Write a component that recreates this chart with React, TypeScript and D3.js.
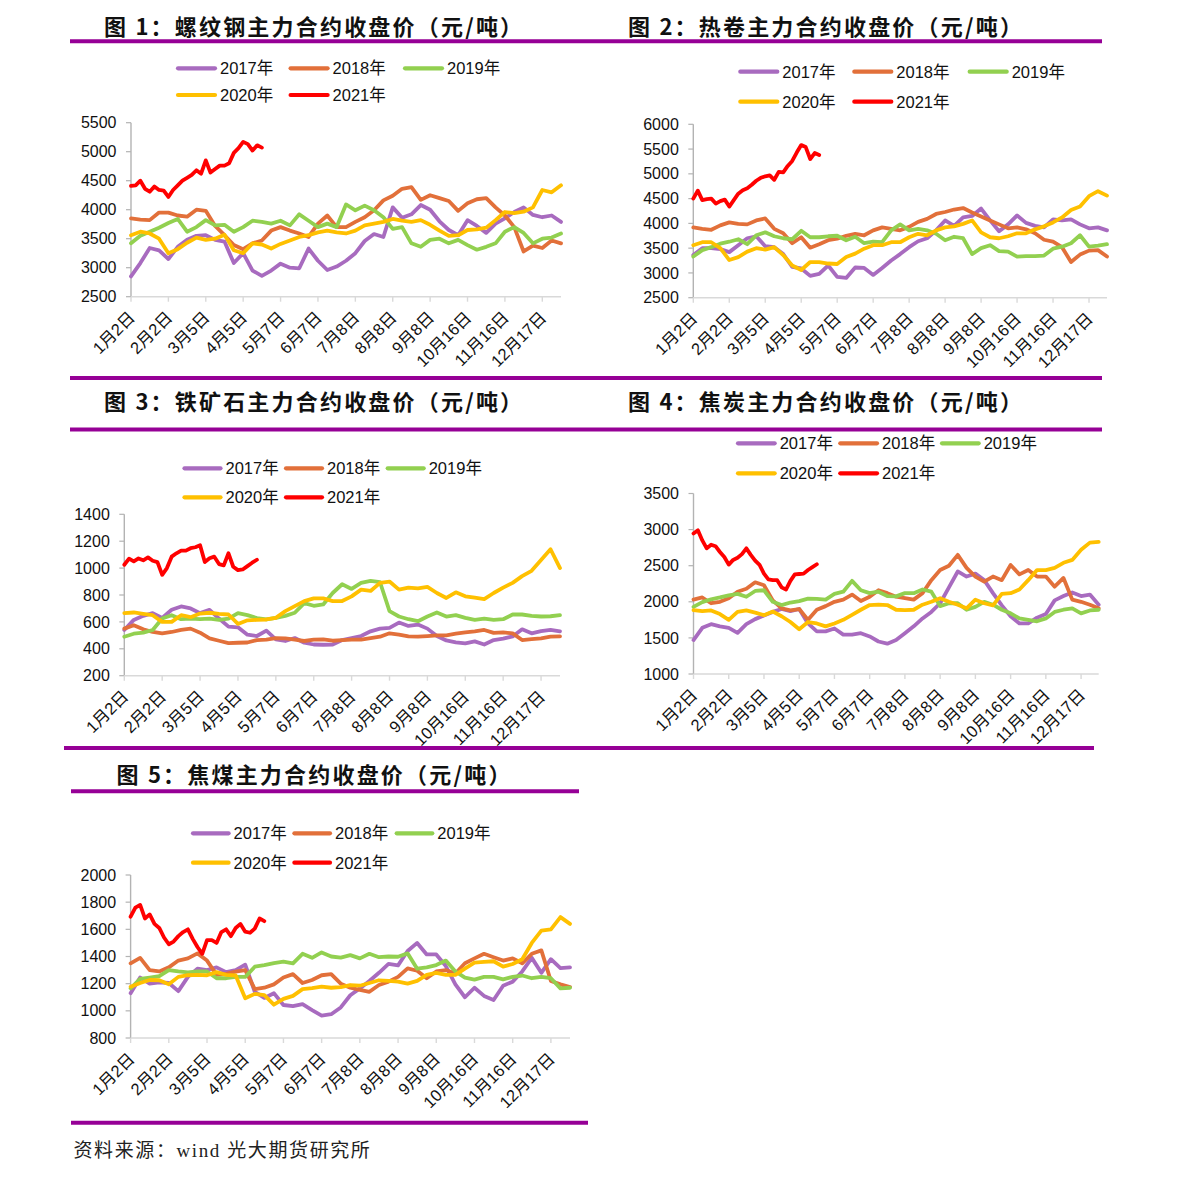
import React from 'react';
import * as d3 from 'd3';

// ---------- categories / labels ----------
const DATES = ['1月2日', '2月2日', '3月5日', '4月5日', '5月7日', '6月7日', '7月8日', '8月8日', '9月8日', '10月16日', '11月16日', '12月17日'];
const YEARS = ['2017年', '2018年', '2019年', '2020年', '2021年'];
const COLORS = ['#A86BBF', '#E2703A', '#92D050', '#FFC000', '#FF0000'];
// sample spacing, in units of one x tick interval
const FULL_STEP = 0.25;
const YTD_STEP = 0.125;

// ---------- 图1 螺纹钢 ----------
const rebar2017 = [2850,3080,3340,3300,3150,3360,3480,3550,3560,3480,3450,3080,3250,2950,2860,2950,3070,3000,2990,3330,3120,2960,3020,3120,3250,3460,3580,3530,4040,3860,3920,4080,4000,3800,3650,3560,3820,3720,3600,3760,3850,3960,4040,3910,3870,3900,3790];
const rebar2018 = [3850,3830,3820,3950,3950,3900,3880,4000,3980,3720,3560,3390,3320,3420,3470,3640,3700,3640,3590,3530,3760,3900,3700,3700,3790,3870,3990,4160,4240,4360,4390,4170,4250,4200,4150,3980,4110,4180,4200,4040,3900,3700,3280,3380,3340,3470,3420];
const rebar2019 = [3420,3550,3620,3690,3770,3840,3620,3700,3820,3730,3740,3620,3700,3810,3790,3760,3810,3730,3920,3810,3700,3760,3700,4090,3990,4070,3990,3870,3670,3700,3420,3360,3480,3500,3420,3480,3390,3310,3360,3420,3620,3700,3600,3420,3500,3520,3590];
const rebar2020 = [3560,3620,3590,3500,3250,3320,3430,3520,3480,3500,3570,3300,3250,3420,3400,3330,3410,3470,3530,3560,3610,3640,3610,3590,3640,3730,3760,3790,3840,3810,3790,3820,3740,3640,3550,3560,3650,3660,3690,3820,3960,3940,3965,4040,4340,4300,4420];
const rebar2021 = [4410,4420,4500,4360,4310,4400,4340,4330,4220,4340,4420,4500,4550,4600,4680,4620,4850,4640,4700,4760,4760,4800,4980,5060,5170,5130,5020,5110,5070];

// ---------- 图2 热卷 ----------
const hrc2017 = [3360,3500,3500,3480,3420,3560,3700,3740,3540,3520,3380,3120,3090,2940,2980,3150,2920,2900,3110,3100,2960,3100,3250,3380,3520,3640,3700,3860,4060,3950,4120,4150,4300,4060,3840,3980,4160,4010,3950,3920,4080,4060,4080,3980,3900,3920,3860];
const hrc2018 = [3920,3890,3870,3960,4020,3990,3980,4060,4100,3890,3800,3600,3720,3510,3580,3660,3690,3750,3790,3760,3860,3920,3890,3860,3930,4030,4090,4190,4230,4280,4310,4220,4140,4060,3980,3900,3920,3880,3800,3670,3630,3520,3220,3370,3450,3460,3330];
const hrc2019 = [3330,3460,3520,3590,3630,3680,3580,3760,3820,3740,3700,3680,3850,3720,3720,3740,3750,3660,3730,3600,3630,3620,3860,3980,3860,3890,3860,3790,3660,3730,3700,3380,3500,3560,3440,3430,3330,3340,3340,3350,3490,3530,3600,3760,3530,3550,3580];
const hrc2020 = [3560,3620,3620,3500,3260,3320,3430,3500,3470,3520,3360,3150,3060,3220,3220,3190,3180,3320,3390,3490,3560,3560,3620,3620,3720,3790,3760,3860,3920,3940,3990,4060,3820,3720,3700,3740,3800,3800,3880,3940,4020,4120,4270,4340,4550,4650,4560];
const hrc2021 = [4500,4660,4470,4490,4500,4400,4450,4480,4340,4470,4600,4670,4710,4780,4860,4920,4950,4970,4880,5040,5030,5160,5260,5430,5580,5540,5300,5420,5380];

// ---------- 图3 铁矿石 ----------
const ore2017 = [540,615,645,665,630,690,715,700,665,690,625,565,560,505,495,535,470,458,480,445,432,430,432,465,480,495,530,550,555,595,570,580,550,495,462,448,440,455,432,465,475,492,545,515,532,540,530];
const ore2018 = [550,575,545,525,515,525,540,550,520,478,460,442,445,447,465,468,480,478,468,458,468,470,460,465,468,468,480,490,515,505,492,490,495,500,500,512,522,530,540,518,522,515,465,472,478,490,492];
const ore2019 = [490,512,520,540,625,650,620,625,620,625,615,625,665,650,628,618,630,645,668,740,720,730,815,880,845,890,905,895,680,640,620,605,640,670,640,650,630,615,625,615,620,655,655,645,640,642,650];
const ore2020 = [665,670,660,650,600,600,650,635,662,668,660,655,585,612,615,618,630,680,717,754,775,775,755,755,790,840,830,890,900,840,855,850,860,815,778,820,790,780,770,815,855,890,940,980,1060,1140,1000];
const ore2021 = [1025,1070,1050,1072,1058,1080,1055,1045,950,1000,1085,1110,1130,1130,1148,1155,1170,1045,1073,1085,1030,1020,1110,1010,985,990,1015,1040,1062];

// ---------- 图4 焦炭 ----------
const coke2017 = [1470,1640,1690,1660,1640,1570,1690,1760,1810,1860,1900,1870,1900,1700,1590,1590,1630,1545,1545,1565,1520,1450,1420,1470,1565,1660,1770,1860,1980,2200,2420,2350,2390,2300,2120,1950,1800,1700,1700,1780,1830,2020,2080,2130,2080,2100,1960];
const coke2018 = [2030,2060,1980,2000,2050,2140,2180,2270,2230,2020,1910,1880,1900,1750,1890,1940,2000,2030,2100,2010,2070,2160,2120,2070,2050,2030,2120,2300,2440,2500,2650,2470,2350,2280,2350,2300,2510,2380,2440,2350,2350,2210,2330,2030,2000,1960,1910];
const coke2019 = [1930,1995,2035,2060,2090,2110,2070,2150,2160,2000,1955,1990,2010,2045,2040,2030,2110,2140,2290,2160,2120,2140,2080,2075,2120,2120,2170,2140,1940,1980,1980,1890,1930,2000,1960,1890,1840,1770,1750,1730,1770,1860,1890,1910,1840,1880,1890];
const coke2020 = [1885,1870,1880,1830,1750,1860,1880,1850,1815,1865,1800,1720,1620,1720,1700,1660,1700,1750,1820,1890,1955,1960,1955,1890,1885,1890,1960,2000,2050,2000,1960,1910,2030,1980,1950,2110,2120,2170,2300,2440,2440,2470,2540,2580,2720,2820,2830];
const coke2021 = [2946,2990,2850,2740,2790,2770,2690,2620,2515,2580,2610,2660,2740,2650,2570,2510,2390,2310,2300,2300,2200,2170,2290,2380,2385,2390,2440,2480,2520];

// ---------- 图5 焦煤 ----------
const coal2017 = [1130,1245,1200,1210,1205,1145,1250,1310,1300,1320,1285,1300,1340,1140,1095,1130,1043,1035,1050,1006,965,975,1025,1115,1165,1220,1280,1345,1335,1440,1500,1415,1415,1330,1195,1100,1170,1110,1080,1185,1215,1290,1390,1280,1380,1315,1320];
const coal2018 = [1350,1390,1300,1290,1320,1370,1386,1423,1370,1265,1272,1288,1300,1160,1170,1195,1245,1270,1205,1227,1262,1270,1200,1170,1155,1140,1190,1215,1250,1313,1295,1240,1290,1300,1275,1350,1386,1420,1395,1370,1386,1350,1420,1445,1220,1195,1175];
const coal2019 = [1166,1235,1245,1255,1300,1290,1283,1290,1290,1240,1240,1250,1250,1325,1337,1352,1362,1350,1420,1390,1430,1400,1392,1410,1386,1420,1395,1400,1398,1423,1310,1320,1337,1370,1290,1245,1230,1250,1250,1232,1250,1260,1240,1250,1240,1165,1170];
const coal2020 = [1178,1205,1227,1225,1195,1250,1262,1265,1262,1285,1265,1260,1092,1125,1115,1045,1088,1110,1160,1168,1178,1170,1175,1190,1185,1205,1225,1220,1215,1200,1220,1265,1280,1265,1265,1310,1355,1360,1365,1325,1345,1380,1500,1590,1600,1690,1640];
const coal2021 = [1693,1760,1780,1680,1710,1640,1610,1540,1490,1510,1550,1580,1600,1530,1470,1420,1520,1520,1500,1580,1600,1550,1610,1640,1583,1575,1605,1680,1660];

// ---------- y tick labels ----------
const ticksRebar = [2500, 3000, 3500, 4000, 4500, 5000, 5500];
const ticksHrc = [2500, 3000, 3500, 4000, 4500, 5000, 5500, 6000];
const ticksOre = [200, 400, 600, 800, 1000, 1200, 1400];
const ticksCoke = [1000, 1500, 2000, 2500, 3000, 3500];
const ticksCoal = [800, 1000, 1200, 1400, 1600, 1800, 2000];

const SANS = '"Liberation Sans", Arial, "Noto Sans CJK SC", sans-serif';
const TITLE_FONT = '"Noto Sans CJK SC", "Noto Sans", sans-serif';
const PURPLE = '#960096';

type PanelCfg = {
  title: string;
  titleX: number;
  titleY: number;
  x0: number; x1: number; yTop: number; yBot: number;
  ticks: number[];
  series: number[][];
  legendCols: number[];
  legendRows: number[];
  legendLen: number;
};

const panels: PanelCfg[] = [
  {
    title: '图 1：螺纹钢主力合约收盘价（元/吨）', titleX: 104, titleY: 34.5,
    x0: 131, x1: 561, yTop: 122.7, yBot: 296.7, ticks: ticksRebar,
    series: [rebar2017, rebar2018, rebar2019, rebar2020, rebar2021],
    legendCols: [176, 288.6, 403], legendRows: [68.3, 95], legendLen: 41,
  },
  {
    title: '图 2：热卷主力合约收盘价（元/吨）', titleX: 628, titleY: 34.5,
    x0: 693.3, x1: 1107, yTop: 124.3, yBot: 297.7, ticks: ticksHrc,
    series: [hrc2017, hrc2018, hrc2019, hrc2020, hrc2021],
    legendCols: [738.3, 852.3, 967.7], legendRows: [71.7, 101.7], legendLen: 41,
  },
  {
    title: '图 3：铁矿石主力合约收盘价（元/吨）', titleX: 104, titleY: 409.5,
    x0: 124.3, x1: 560, yTop: 514.3, yBot: 675.7, ticks: ticksOre,
    series: [ore2017, ore2018, ore2019, ore2020, ore2021],
    legendCols: [182.5, 284, 385.7], legendRows: [468.3, 497.3], legendLen: 40,
  },
  {
    title: '图 4：焦炭主力合约收盘价（元/吨）', titleX: 628, titleY: 409.5,
    x0: 693.5, x1: 1098.7, yTop: 493.5, yBot: 674, ticks: ticksCoke,
    series: [coke2017, coke2018, coke2019, coke2020, coke2021],
    legendCols: [736, 838.3, 940], legendRows: [443.3, 473.3], legendLen: 40.7,
  },
  {
    title: '图 5：焦煤主力合约收盘价（元/吨）', titleX: 116.5, titleY: 783,
    x0: 130.6, x1: 570, yTop: 875, yBot: 1038, ticks: ticksCoal,
    series: [coal2017, coal2018, coal2019, coal2020, coal2021],
    legendCols: [191, 292.4, 394.7], legendRows: [833.3, 862.7], legendLen: 39.6,
  },
];

function Panel({ cfg }: { cfg: PanelCfg }) {
  const x = d3.scaleLinear().domain([0, 11.5]).range([cfg.x0, cfg.x1]);
  const yMin = cfg.ticks[0];
  const yMax = cfg.ticks[cfg.ticks.length - 1];
  const y = d3.scaleLinear().domain([yMin, yMax]).range([cfg.yBot, cfg.yTop]);
  const tickIdx = d3.range(DATES.length);

  return (
    <g>
      <text x={cfg.titleX} y={cfg.titleY} fontFamily={TITLE_FONT} fontWeight={700} fontSize={22}
        letterSpacing={2.2} fill="#111">{cfg.title}</text>

      {/* legend */}
      {YEARS.map((yr, i) => {
        const cx = cfg.legendCols[i % 3];
        const cy = cfg.legendRows[i < 3 ? 0 : 1];
        return (
          <g key={yr}>
            <line x1={cx + 2} x2={cx + cfg.legendLen - 2} y1={cy} y2={cy} stroke={COLORS[i]}
              strokeWidth={4.2} strokeLinecap="round" />
            <text x={cx + cfg.legendLen + 3} y={cy + 5.8} fontFamily={SANS} fontSize={16.5} fill="#111">{yr}</text>
          </g>
        );
      })}

      {/* y axis */}
      <line x1={cfg.x0} x2={cfg.x0} y1={cfg.yTop} y2={cfg.yBot} stroke="#B3B3B3" strokeWidth={1.4} />
      {cfg.ticks.map((t) => (
        <g key={t}>
          <line x1={cfg.x0 - 5} x2={cfg.x0} y1={y(t)} y2={y(t)} stroke="#B3B3B3" strokeWidth={1.2} />
          <text x={cfg.x0 - 14.5} y={y(t) + 5.6} textAnchor="end" fontFamily={SANS} fontSize={16} fill="#111">{t}</text>
        </g>
      ))}

      {/* x axis */}
      <line x1={cfg.x0} x2={cfg.x1} y1={cfg.yBot} y2={cfg.yBot} stroke="#D9D9D9" strokeWidth={1.6} />
      {tickIdx.map((i) => {
        const tx = x(i);
        return (
          <g key={i}>
            <line x1={tx} x2={tx} y1={cfg.yBot} y2={cfg.yBot + 5} stroke="#D9D9D9" strokeWidth={1.4} />
            <text transform={`translate(${tx + 5},${cfg.yBot + 22}) rotate(-45)`} textAnchor="end"
              fontFamily={SANS} fontSize={16.5} fill="#111">{DATES[i]}</text>
          </g>
        );
      })}

      {/* series */}
      {cfg.series.map((vals, si) => {
        const step = si === 4 ? YTD_STEP : FULL_STEP;
        const line = d3.line<number>()
          .x((_, i) => x(i * step))
          .y((d) => y(d));
        return (
          <path key={si} d={line(vals) || ''} fill="none" stroke={COLORS[si]} strokeWidth={3.8}
            strokeLinejoin="round" strokeLinecap="round" />
        );
      })}
    </g>
  );
}

export default function App() {
  const W = 1191;
  const H = 1181;
  return (
    <div style={{ position: 'absolute', left: 0, top: 0, width: W, height: H, background: '#fff' }}>
      <svg width={W} height={H} viewBox={`0 0 ${W} ${H}`} style={{ display: 'block' }}>
        <rect x={0} y={0} width={W} height={H} fill="#fff" />
        {/* separator bars */}
        <line x1={70} x2={1102} y1={41.3} y2={41.3} stroke={PURPLE} strokeWidth={4} />
        <line x1={70} x2={1102} y1={378} y2={378} stroke={PURPLE} strokeWidth={4} />
        <line x1={70} x2={1102} y1={429.5} y2={429.5} stroke={PURPLE} strokeWidth={4} />
        <line x1={64} x2={1094} y1={748} y2={748} stroke={PURPLE} strokeWidth={4} />
        <line x1={71} x2={579} y1={791.3} y2={791.3} stroke={PURPLE} strokeWidth={4} />
        <line x1={71} x2={588} y1={1122.7} y2={1122.7} stroke={PURPLE} strokeWidth={4} />

        {panels.map((p, i) => <Panel key={i} cfg={p} />)}

        <text x={73.5} y={1157} fontFamily='"Liberation Serif", "Noto Sans CJK SC", serif' fontSize={19}
          letterSpacing={1.6} fill="#222">资料来源：wind 光大期货研究所</text>
      </svg>
    </div>
  );
}
